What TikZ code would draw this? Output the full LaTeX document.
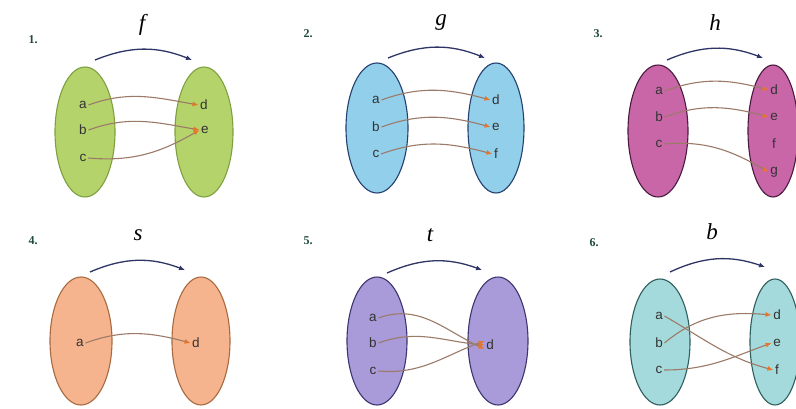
\documentclass[tikz,border=0pt]{standalone}
\usepackage{fontspec}
\setmainfont{Liberation Sans}
\newfontfamily\seriffam{Liberation Serif}
\usetikzlibrary{shapes.geometric,arrows.meta}
\definecolor{gfill}{HTML}{B4D36B}\definecolor{gline}{HTML}{7FA040}
\definecolor{bfill}{HTML}{92CFEA}\definecolor{bline}{HTML}{23406E}
\definecolor{pfill}{HTML}{C866A8}\definecolor{pline}{HTML}{4A1A40}
\definecolor{ofill}{HTML}{F5B48E}\definecolor{oline}{HTML}{A86A3E}
\definecolor{lfill}{HTML}{A99BD9}\definecolor{lline}{HTML}{3E3570}
\definecolor{tfill}{HTML}{A4DADB}\definecolor{tline}{HTML}{2E5E5E}
\definecolor{mapline}{HTML}{9C7A68}
\definecolor{maphead}{HTML}{E8742A}
\definecolor{topline}{HTML}{2F3566}
\definecolor{numgreen}{HTML}{1E4A3A}
\tikzset{
  setbox/.style={ellipse, line width=1.1pt, minimum width=60pt, minimum height=130pt, inner sep=0pt},
  elem/.style={font=\fontsize{13.5}{13.5}\selectfont, inner sep=1.5pt, text=black!80},
  maparrow/.style={-{Latex[length=6pt,width=5pt,color=maphead]}, draw=mapline, line width=1.1pt},
  funarrow/.style={-{Latex[length=6pt,width=5pt]}, draw=topline, line width=1.3pt, bend left=22},
  fname/.style={font=\fontsize{23}{23}\selectfont\seriffam\itshape, inner sep=0pt},
  numlabel/.style={font=\fontsize{12}{12}\selectfont\seriffam\bfseries, text=numgreen, inner sep=0pt}
}
\begin{document}
\begin{tikzpicture}[x=1pt,y=-1pt]
\useasboundingbox[fill=white] (0,0) rectangle (796,409);

% ---------- Panel 1 ----------
\node[numlabel] (n1) at (33,40) {1.};
\node[fname] (f1) at (142,25) {f};
\coordinate (s1) at (95,60); \coordinate (e1) at (192,60);
\draw[funarrow] (s1) to (e1);
\node[setbox, draw=gline, fill=gfill] (L1) at (85,132) {};
\node[setbox, draw=gline, fill=gfill, minimum width=58pt] (R1) at (204,132) {};
\node[elem] (a1) at (83,105) {a};
\node[elem] (b1) at (83,130) {b};
\node[elem] (c1) at (83,158) {c};
\node[elem] (d1) at (204,105) {d};
\node[elem] (e1n) at (205,130) {e};
\draw[maparrow] (a1.east) to[out=20,in=170] (d1.west);
\draw[maparrow] (b1.east) to[out=20,in=170] (e1n.west);
\draw[maparrow] (c1.east) to[out=-5,in=210] (e1n.west);

% ---------- Panel 2 ----------
\node[numlabel] (n2) at (308,34) {2.};
\node[fname] (f2) at (441,23) {g};
\coordinate (s2) at (388,58); \coordinate (e2) at (485,58);
\draw[funarrow] (s2) to (e2);
\node[setbox, draw=bline, fill=bfill, minimum width=62pt] (L2) at (377,128) {};
\node[setbox, draw=bline, fill=bfill, minimum width=56pt] (R2) at (496,128) {};
\node[elem] (a2) at (376,100) {a};
\node[elem] (b2) at (376,127) {b};
\node[elem] (c2) at (376,154) {c};
\node[elem] (d2) at (496,100) {d};
\node[elem] (e2n) at (496,127) {e};
\node[elem] (f2n) at (496,154) {f};
\draw[maparrow] (a2.east) to[out=20,in=165] (d2.west);
\draw[maparrow] (b2.east) to[out=20,in=165] (e2n.west);
\draw[maparrow] (c2.east) to[out=20,in=165] (f2n.west);

% ---------- Panel 3 ----------
\node[numlabel] (n3) at (598,34) {3.};
\node[fname] (f3) at (715,23) {h};
\coordinate (s3) at (667,60); \coordinate (e3) at (763,58);
\draw[funarrow] (s3) to (e3);
\node[setbox, draw=pline, fill=pfill, minimum height=132pt] (L3) at (658,131) {};
\node[setbox, draw=pline, fill=pfill, minimum width=50pt, minimum height=132pt] (R3) at (773,131) {};
\node[elem] (a3) at (659,91) {a};
\node[elem] (b3) at (659,117) {b};
\node[elem] (c3) at (659,144) {c};
\node[elem] (d3) at (774,90) {d};
\node[elem] (e3n) at (774,117) {e};
\node[elem] (f3n) at (774,144) {f};
\node[elem] (g3) at (774,172) {g};
\draw[maparrow] (a3.east) to[out=20,in=165] (d3.west);
\draw[maparrow] (b3.east) to[out=20,in=165] (e3n.west);
\draw[maparrow] (c3.east) to[out=5,in=150] (g3.west);

% ---------- Panel 4 ----------
\node[numlabel] (n4) at (33,241) {4.};
\node[fname] (f4) at (138,235) {s};
\coordinate (s4) at (90,272); \coordinate (e4) at (185,270);
\draw[funarrow] (s4) to (e4);
\node[setbox, draw=oline, fill=ofill, minimum width=62pt, minimum height=128pt] (L4) at (81,341) {};
\node[setbox, draw=oline, fill=ofill, minimum width=58pt, minimum height=128pt] (R4) at (201,341) {};
\node[elem] (a4) at (80,343) {a};
\node[elem] (d4) at (196,343) {d};
\draw[maparrow] (a4.east) to[out=20,in=165] (d4.west);

% ---------- Panel 5 ----------
\node[numlabel] (n5) at (308,241) {5.};
\node[fname] (f5) at (430,235) {t};
\coordinate (s5) at (387,273); \coordinate (e5) at (482,270);
\draw[funarrow] (s5) to (e5);
\node[setbox, draw=lline, fill=lfill, minimum height=128pt] (L5) at (377,341) {};
\node[setbox, draw=lline, fill=lfill, minimum height=128pt] (R5) at (498,341) {};
\node[elem] (a5) at (373,318) {a};
\node[elem] (b5) at (373,343) {b};
\node[elem] (c5) at (373,371) {c};
\node[elem] (d5) at (490,345) {d};
\draw[maparrow] (a5.east) to[out=20,in=155] ([yshift=-4pt]d5.west);
\draw[maparrow] (b5.east) to[out=20,in=175] (d5.west);
\draw[maparrow] (c5.east) to[out=-5,in=200] ([yshift=4pt]d5.west);

% ---------- Panel 6 ----------
\node[numlabel] (n6) at (594,243) {6.};
\node[fname] (f6) at (712,232) {b};
\coordinate (s6) at (670,272); \coordinate (e6) at (765,267);
\draw[funarrow] (s6) to (e6);
\node[setbox, draw=tline, fill=tfill, minimum height=126pt] (L6) at (660,342) {};
\node[setbox, draw=tline, fill=tfill, minimum width=50pt, minimum height=126pt] (R6) at (775,342) {};
\node[elem] (a6) at (659,316) {a};
\node[elem] (b6) at (659,343) {b};
\node[elem] (c6) at (659,370) {c};
\node[elem] (d6) at (777,315) {d};
\node[elem] (e6n) at (777,343) {e};
\node[elem] (f6n) at (777,370) {f};
\draw[maparrow] (a6.east) to[out=-30,in=165] (f6n.west);
\draw[maparrow] (b6.east) to[out=40,in=175] (d6.west);
\draw[maparrow] (c6.east) to[out=0,in=200] (e6n.west);
\end{tikzpicture}
\end{document}
